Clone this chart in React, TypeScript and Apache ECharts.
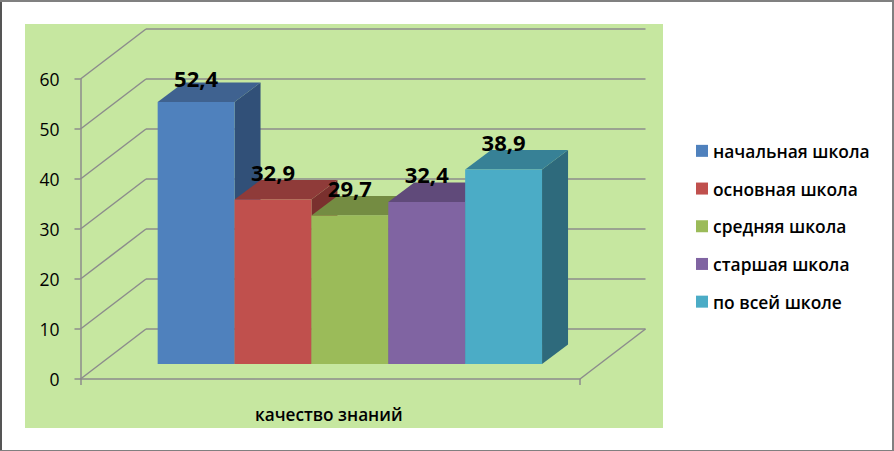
import React, { useEffect, useRef } from "react";
import * as echarts from "echarts";

const categories = ["качество знаний"];
const seriesNames = ["начальная школа", "основная школа", "средняя школа", "старшая школа", "по всей школе"];
const seriesValues = [52.4, 32.9, 29.7, 32.4, 38.9];
const yTicks = [0, 10, 20, 30, 40, 50, 60];
const frontColors = ["#4f81bd", "#c0504d", "#9bbb59", "#8064a2", "#4bacc6"];
const topColors = ["#3f6290", "#8f3b39", "#748c42", "#604a7a", "#378196"];
const sideColors = ["#315078", "#7a302e", "#5f7336", "#4e3b66", "#2e6a7c"];

const FONT = '"Open Sans", "Noto Sans", sans-serif';
const GRID_COLOR = "#8c8c8c";
const WALL_DX = 65.5;
const WALL_DY = -50;
const BAR_SHIFT_X = 19.6;
const BAR_SHIFT_Y = -15;
const BAR_DEPTH_X = 26;
const BAR_DEPTH_Y = -19.5;
const BAR_BAND = 0.1539;
const LABEL_GAP = [24.5, 27.6, 27.6, 27.6, 27.6];

export default function App() {
  const ref = useRef<HTMLDivElement>(null);
  useEffect(() => {
    const chart = echarts.init(ref.current!, null, { renderer: "svg" });
    const line = (x1: number, y1: number, x2: number, y2: number) => ({
      type: "line",
      shape: { x1, y1, x2, y2 },
      style: { stroke: GRID_COLOR, lineWidth: 1.5 },
    });
    const wall = {
      type: "custom",
      silent: true,
      z: 1,
      encode: { x: 0, y: 1 },
      data: yTicks.map((t) => [0, t]),
      renderItem: (params: any, api: any) => {
        const cs = params.coordSys;
        const y = api.coord([0, api.value(1)])[1];
        const children: any[] = [
          line(cs.x, y, cs.x + WALL_DX, y + WALL_DY),
          line(cs.x + WALL_DX, y + WALL_DY, cs.x + cs.width + WALL_DX, y + WALL_DY),
        ];
        if (api.value(1) === 0) {
          children.push(line(cs.x + cs.width, y, cs.x + cs.width + WALL_DX, y + WALL_DY));
        }
        return { type: "group", children };
      },
    };
    const bars = seriesNames.map((name, i) => ({
      type: "custom",
      name,
      silent: true,
      z: 3 + i,
      itemStyle: { color: frontColors[i] },
      encode: { x: 0, y: 1 },
      data: [[0, seriesValues[i]]],
      renderItem: (params: any, api: any) => {
        const w = params.coordSys.width * BAR_BAND;
        const [cx, yTop] = api.coord([0, api.value(1)]);
        const yBase = api.coord([0, 0])[1] + BAR_SHIFT_Y;
        const x0 = cx + (i - 2.5) * w + BAR_SHIFT_X;
        const x1 = x0 + w;
        const yT = yTop + BAR_SHIFT_Y;
        const poly = (points: number[][], fill: string) => ({ type: "polygon", shape: { points }, style: { fill } });
        return {
          type: "group",
          children: [
            poly([[x1, yT], [x1 + BAR_DEPTH_X, yT + BAR_DEPTH_Y], [x1 + BAR_DEPTH_X, yBase + BAR_DEPTH_Y], [x1, yBase]], sideColors[i]),
            poly([[x0, yT], [x0 + BAR_DEPTH_X, yT + BAR_DEPTH_Y], [x1 + BAR_DEPTH_X, yT + BAR_DEPTH_Y], [x1, yT]], topColors[i]),
            poly([[x0, yT], [x1, yT], [x1, yBase], [x0, yBase]], frontColors[i]),
            {
              type: "text",
              z2: 100,
              style: {
                text: String(seriesValues[i]).replace(".", ","),
                x: (x0 + x1) / 2,
                y: yT - LABEL_GAP[i],
                align: "center",
                verticalAlign: "middle",
                fontFamily: FONT,
                fontSize: 22,
                fontWeight: 700,
                fill: "#000",
              },
            },
          ],
        };
      },
    }));
    chart.setOption({
      animation: false,
      backgroundColor: "#fff",
      graphic: [
        { type: "rect", z: -10, shape: { x: 0, y: 0, width: 894, height: 451 }, style: { fill: "#fff" } },
        { type: "rect", z: -9, shape: { x: 0, y: 0, width: 2, height: 451 }, style: { fill: "#555" } },
        { type: "rect", z: -9, shape: { x: 0, y: 0, width: 894, height: 2 }, style: { fill: "#808080" } },
        { type: "rect", z: -9, shape: { x: 892, y: 0, width: 2, height: 451 }, style: { fill: "#808080" } },
        { type: "rect", z: -9, shape: { x: 0, y: 450, width: 894, height: 1 }, style: { fill: "#808080" } },
        { type: "rect", z: -8, shape: { x: 25, y: 24, width: 638, height: 404 }, style: { fill: "#c6e7a0" } },
      ],
      grid: { left: 80.5, top: 79, width: 499.5, height: 300, containLabel: false },
      legend: {
        orient: "vertical",
        left: 691,
        top: 137,
        icon: "rect",
        itemWidth: 12,
        itemHeight: 12,
        itemGap: 20,
        data: seriesNames,
        selectedMode: false,
        textStyle: { fontFamily: FONT, fontSize: 17.4, fontWeight: 600, color: "#000", height: 17.7, lineHeight: 17.7, padding: [0, 0, 0, 0] },
      },
      xAxis: {
        type: "category",
        data: categories,
        axisLine: { lineStyle: { color: GRID_COLOR, width: 1.5 } },
        axisTick: { show: true, length: 6, lineStyle: { color: GRID_COLOR, width: 1.5 } },
        axisLabel: { margin: 27, fontFamily: FONT, fontSize: 17.2, fontWeight: 600, color: "#000", padding: [0, 3, 0, 0] },
        splitLine: { show: false },
      },
      yAxis: {
        type: "value",
        min: 0,
        max: 60,
        interval: 10,
        axisLine: { show: true, lineStyle: { color: GRID_COLOR, width: 1.5 } },
        axisTick: { show: true, length: 6, lineStyle: { color: GRID_COLOR, width: 1.5 } },
        axisLabel: { margin: 21, fontFamily: FONT, fontSize: 17.5, color: "#000" },
        splitLine: { show: false },
      },
      series: [wall, ...bars],
    });
    return () => chart.dispose();
  }, []);
  return <div ref={ref} style={{ position: "fixed", left: 0, top: 0, width: 894, height: 451 }} />;
}
